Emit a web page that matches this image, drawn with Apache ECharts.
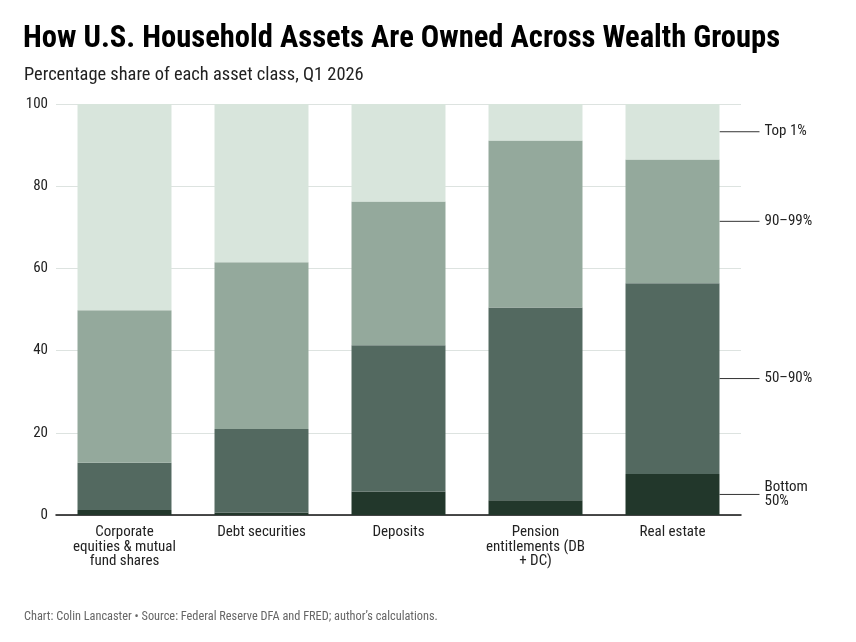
<!DOCTYPE html>
<html>
<head>
<meta charset="utf-8">
<script src="https://cdn.jsdelivr.net/npm/echarts@6/dist/echarts.min.js"></script>
<style>
html,body{margin:0;padding:0;background:#fff;}
#chart{width:856px;height:642px;}
</style>
</head>
<body>
<div id="chart"></div>
<script>
var categories = ['Corporate equities & mutual fund shares', 'Debt securities', 'Deposits', 'Pension entitlements (DB + DC)', 'Real estate'];
var tickLabels = ['Corporate\nequities & mutual\nfund shares', 'Debt securities', 'Deposits', 'Pension\nentitlements (DB\n+ DC)', 'Real estate'];
var groupNames = ['Bottom 50%', '50–90%', '90–99%', 'Top 1%'];
var groupLabels = ['Bottom\n50%', '50–90%', '90–99%', 'Top 1%'];
var bottom50 = [1.2, 0.6, 5.7, 3.6, 10.0];
var p50to90 = [11.5, 20.3, 35.6, 46.9, 46.4];
var p90to99 = [37.1, 40.6, 35.0, 40.6, 30.1];
var top1 = [50.2, 38.5, 23.7, 8.9, 13.5];
var yTicks = [0, 20, 40, 60, 80, 100];

var FONT = '"Roboto Condensed", "Liberation Sans Narrow", "DejaVu Sans Condensed", Roboto, sans-serif';
var colors = ['#22372b', '#536960', '#94a99c', '#d8e5dc'];
var seriesValues = [bottom50, p50to90, p90to99, top1];
var last = categories.length - 1;

var series = seriesValues.map(function (vals, si) {
  return {
    name: groupNames[si],
    type: 'bar',
    stack: 'total',
    barCategoryGap: '31.4%',
    itemStyle: { color: colors[si] },
    emphasis: { disabled: true },
    data: vals.map(function (v, i) {
      if (i !== last) return v;
      return {
        value: v,
        label: {
          show: true,
          position: 'right',
          distance: 2,
          formatter: groupLabels[si],
          color: '#222',
          fontSize: 15,
          fontFamily: FONT,
          lineHeight: 14,
          align: 'left',
          padding: [0, 0, 0, 5]
        },
        labelLine: { show: true, lineStyle: { color: '#333', width: 1 } }
      };
    }),
    labelLayout: function (params) {
      if (params.dataIndex === last) return { dx: 38 };
      return {};
    }
  };
});

var chart = echarts.init(document.getElementById('chart'), null, { renderer: 'canvas' });
chart.setOption({
  animation: false,
  backgroundColor: '#fff',
  title: [
    { text: 'How U.S. Household Assets Are Owned Across Wealth Groups', left: 18, top: 19,
      textStyle: { fontFamily: FONT, fontWeight: 'bold', fontSize: 30.6, color: '#000' } },
    { text: 'Percentage share of each asset class, Q1 2026', left: 19, top: 61,
      textStyle: { fontFamily: FONT, fontWeight: 'normal', fontSize: 18.4, color: '#222' } },
    { text: 'Chart: Colin Lancaster • Source: Federal Reserve DFA and FRED; author’s calculations.', left: 19, top: 606,
      textStyle: { fontFamily: FONT, fontWeight: 'normal', fontSize: 12.3, color: '#666' } }
  ],
  grid: { left: 56, right: 115, top: 104, bottom: 127, containLabel: false },
  xAxis: {
    type: 'category',
    data: categories,
    axisLine: { lineStyle: { color: '#111', width: 1.5 } },
    axisTick: { show: false },
    axisLabel: {
      interval: 0,
      margin: 10,
      color: '#222',
      fontSize: 15,
      lineHeight: 14.5,
      fontFamily: FONT,
      formatter: function (v, i) { return tickLabels[i]; }
    }
  },
  yAxis: {
    type: 'value',
    min: yTicks[0],
    max: yTicks[yTicks.length - 1],
    interval: yTicks[1] - yTicks[0],
    axisLine: { show: false },
    axisTick: { show: false },
    axisLabel: { color: '#222', fontSize: 15, fontFamily: FONT, margin: 8 },
    splitLine: { lineStyle: { color: '#dde3e0', width: 1 } }
  },
  series: series
});
</script>
</body>
</html>
